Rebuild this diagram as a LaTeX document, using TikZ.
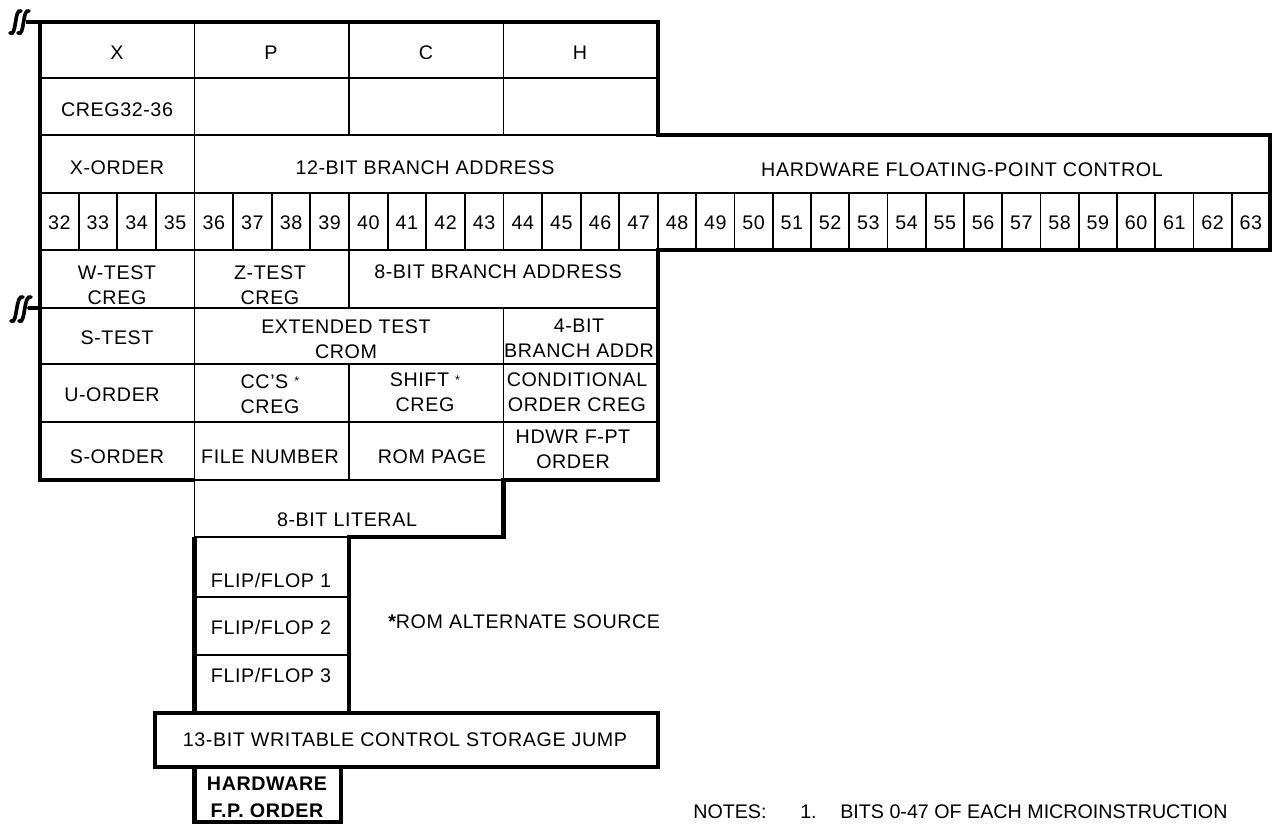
\documentclass[tikz,border=0pt]{standalone}
\usepackage{fontspec}
\setmainfont{Liberation Sans}[LetterSpace=3]
\newfontfamily\notefont{Liberation Sans}
\usetikzlibrary{positioning}
\tikzset{
  cellline/.style={line width=1.4pt},
  frameline/.style={line width=3.4pt, line join=miter},
  breakline/.style={line width=2.6pt, line cap=round},
  lbl/.style={font=\fontsize{14}{17.7}\selectfont, inner sep=0pt, text depth=0pt},
  lbltwo/.style={font=\fontsize{14}{17.7}\selectfont, inner sep=0pt, align=center},
}
\begin{document}
\begin{tikzpicture}[x=0.025cm, y=-0.025cm]
  \useasboundingbox (0,0) rectangle (1277,824);

  % Rejilla interior (lineas finas)
  \draw[cellline] (40,78) -- (658,78);
  \draw[cellline] (40,135) -- (658,135);
  \draw[cellline] (40,193) -- (1270,193);
  \draw[cellline] (40,250) -- (658,250);
  \draw[cellline] (40,308) -- (658,308);
  \draw[cellline] (40,364) -- (658,364);
  \draw[cellline] (40,422) -- (658,422);
  \draw[cellline] (194.5,480) -- (503.5,480);
  \draw[cellline] (194.5,537) -- (349,537);
  \draw[cellline] (194.5,597) -- (349,597);
  \draw[cellline] (194.5,655) -- (349,655);
  \draw[cellline] (194.5,22) -- (194.5,537);
  \draw[cellline] (349,22) -- (349,135);
  \draw[cellline] (503.5,22) -- (503.5,135);
  \draw[cellline] (349,250) -- (349,308);
  \draw[cellline] (503.5,308) -- (503.5,480);
  \draw[cellline] (349,364) -- (349,480);

  % Fila de bits 32-63
  \foreach \b in {32,...,63}{
    \pgfmathsetmacro{\xl}{\b<48 ? 40+(\b-32)*38.625 : 658+(\b-48)*38.25}
    \pgfmathsetmacro{\bw}{\b<48 ? 38.625 : 38.25}
    \draw[cellline] (\xl,193) -- (\xl,250);
    \node[lbl] (bit\b) at (\xl+0.5*\bw,223) {\b};
  }

  % Contorno grueso
  \draw[frameline] (349,713) -- (349,537) -- (503.5,537) -- (503.5,480) -- (658,480)
    -- (658,250) -- (1270,250) -- (1270,135) -- (658,135) -- (658,22) -- (40,22)
    -- (40,480) -- (194.5,480);
  \draw[frameline] (194.5,537) -- (194.5,713);
  \draw[frameline] (155,713) rectangle (658,767);
  \draw[frameline] (194.5,767) rectangle (341,822);

  % Marcas de corte
  \draw[frameline] (26,22) -- (40,22);
  \draw[breakline] (29,308) -- (40,308);
  \draw[breakline] (10,33) .. controls (17,37) and (14,8) .. (21,11);
  \draw[breakline] (18,33) .. controls (25,37) and (22,8) .. (29,11);
  \draw[breakline] (11,321) .. controls (18,325) and (15,294) .. (23,297);
  \draw[breakline] (19,321) .. controls (26,325) and (23,294) .. (31,297);

  % Campos superiores
  \node[lbl] (fx) at (117,53) {X};
  \node[lbl] (fp) at (271,53) {P};
  \node[lbl] (fc) at (426,53) {C};
  \node[lbl] (fh) at (580,53) {H};
  \node[lbl] (creg) at (117,110) {CREG32-36};
  \node[lbl] (xorder) at (117,168) {X-ORDER};
  \node[lbl] (br12) at (425,168) {12-BIT BRANCH ADDRESS};
  \node[lbl] (hfpc) at (962,170) {HARDWARE FLOATING-POINT CONTROL};

  % Campos inferiores
  \node[lbltwo] (wtest) at (117,285.5) {W-TEST\\CREG};
  \node[lbltwo] (ztest) at (270,285.5) {Z-TEST\\CREG};
  \node[lbl] (br8) at (498,272) {8-BIT BRANCH ADDRESS};
  \node[lbl] (stest) at (117,338) {S-TEST};
  \node[lbltwo] (ext) at (346,339.5) {EXTENDED TEST\\CROM};
  \node[lbltwo] (br4) at (579,338) {4-BIT\\BRANCH ADDR};
  \node[lbl] (uorder) at (112,395) {U-ORDER};
  \node[lbltwo] (ccs) at (270,394) {CC'S \raisebox{2pt}{\small *}\\CREG};
  \node[lbltwo] (shift) at (425,392.5) {SHIFT \raisebox{2pt}{\small *}\\CREG};
  \node[lbltwo] (cond) at (577,392.5) {CONDITIONAL\\ORDER CREG};
  \node[lbl] (sorder) at (117,457) {S-ORDER};
  \node[lbl] (file) at (270,457) {FILE NUMBER};
  \node[lbl] (rompage) at (432,457) {ROM PAGE};
  \node[lbltwo] (hdwr) at (573,449.5) {HDWR F-PT\\ORDER};
  \node[lbl] (lit8) at (347,520) {8-BIT LITERAL};

  % Flip/flops
  \node[lbl] (ff1) at (271,580) {FLIP/FLOP 1};
  \node[lbl] (ff2) at (271,627) {FLIP/FLOP 2};
  \node[lbl] (ff3) at (271,675) {FLIP/FLOP 3};
  \node[lbl, anchor=west] (romalt) at (388,622) {{\bfseries *}ROM ALTERNATE SOURCE};

  % Salto WCS y orden F.P.
  \node[lbl] (wcs) at (405,740) {13-BIT WRITABLE CONTROL STORAGE JUMP};
  \node[lbltwo, font=\fontsize{14}{19}\selectfont\bfseries] (hwfp) at (267,797) {HARDWARE\\F.P. ORDER};

  % Notas
  \node[lbl, anchor=west, font=\notefont\fontsize{14}{17}\selectfont] (notes) at (693,812) {NOTES:};
  \node[lbl, anchor=west, font=\notefont\fontsize{14}{17}\selectfont] (note1) at (800,812) {1.};
  \node[lbl, anchor=west, font=\notefont\fontsize{14}{17}\selectfont] (note1txt) at (840,812) {BITS 0-47 OF EACH MICROINSTRUCTION};
\end{tikzpicture}
\end{document}
